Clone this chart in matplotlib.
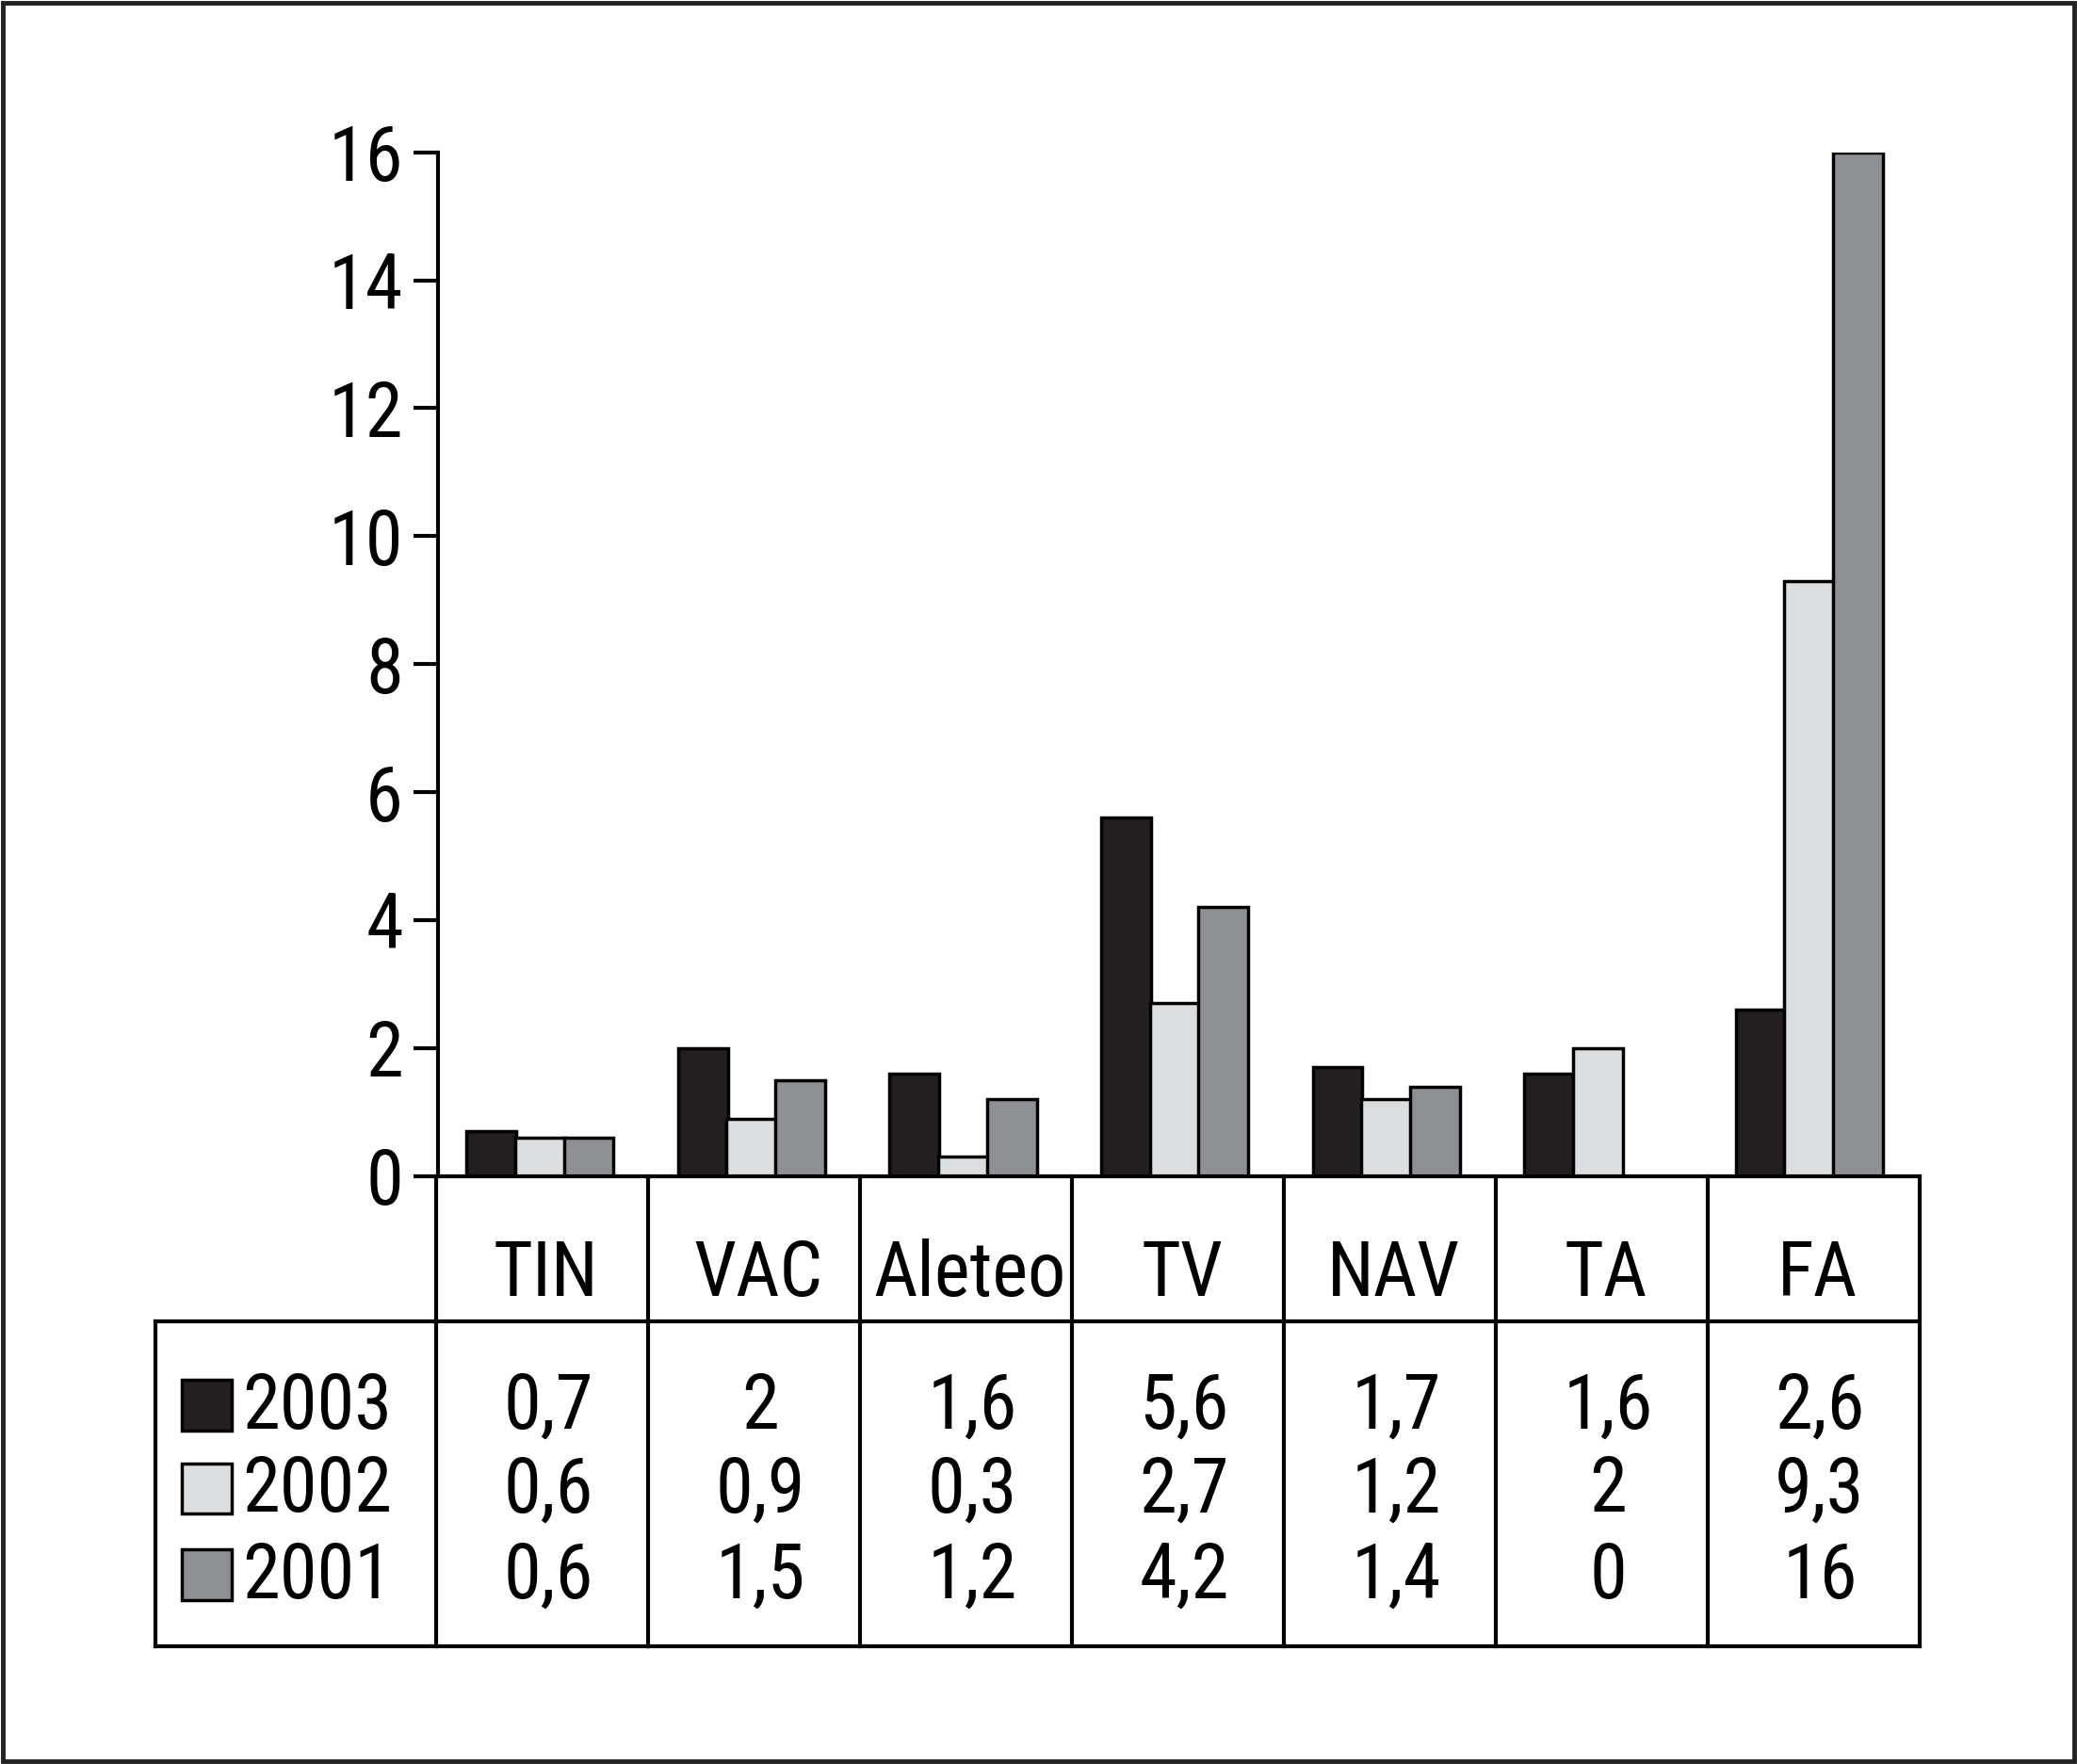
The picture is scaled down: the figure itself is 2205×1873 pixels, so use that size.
import matplotlib
matplotlib.use("Agg")
import matplotlib.pyplot as plt
from matplotlib.patches import Rectangle
import numpy as np

plt.rcParams['font.family'] = ['Roboto Condensed', 'DejaVu Sans']
plt.rcParams['font.weight'] = 'normal'

categories = ["TIN", "VAC", "Aleteo", "TV", "NAV", "TA", "FA"]
series_names = ["2003", "2002", "2001"]
v2003 = [0.7, 2, 1.6, 5.6, 1.7, 1.6, 2.6]
v2002 = [0.6, 0.9, 0.3, 2.7, 1.2, 2, 9.3]
v2001 = [0.6, 1.5, 1.2, 4.2, 1.4, 0, 16]
table_2003 = ["0,7", "2", "1,6", "5,6", "1,7", "1,6", "2,6"]
table_2002 = ["0,6", "0,9", "0,3", "2,7", "1,2", "2", "9,3"]
table_2001 = ["0,6", "1,5", "1,2", "4,2", "1,4", "0", "16"]
yticks = [0, 2, 4, 6, 8, 10, 12, 14, 16]

colors = ["#231f20", "#dcdddf", "#8e9094"]
W, H = 1568.0, 1332.0  # layout reference units

fig = plt.figure(figsize=(22.05, 18.73), dpi=100)
FS = 58
LW = 3.0

# main bar axes
ax = fig.add_axes([331 / W, (H - 888) / H, (1449 - 331) / W, (888 - 115) / H])
x = np.arange(len(categories))
bw = 0.235
offsets = [-0.25, -0.02, 0.21]
for vals, c, off in zip([v2003, v2002, v2001], colors, offsets):
    ax.bar(x + off, vals, width=bw, color=c, edgecolor="black", linewidth=2.5, zorder=3)
ax.set_xlim(-0.5, 6.5)
ax.set_ylim(0, 16)
ax.set_yticks(yticks)
ax.set_yticklabels([str(t) for t in yticks])
ax.set_xticks([])
for s in ["top", "right"]:
    ax.spines[s].set_visible(False)
ax.spines["left"].set_linewidth(LW)
ax.spines["bottom"].set_linewidth(LW)
ax.spines["left"].set_zorder(5)
ax.spines["bottom"].set_zorder(5)
ax.tick_params(axis="y", direction="out", length=19, width=LW, pad=8, labelsize=FS)
ax.patch.set_visible(False)

# table axes
tax = fig.add_axes([117 / W, (H - 1243) / H, (1449 - 117) / W, (1243 - 888) / H])
units = (1449 - 117) / 160.0
x0 = 6.5 - units
tax.set_xlim(x0, 6.5)
tax.set_ylim(0, 355)
tax.axis("off")
kw = dict(color="black", lw=LW, solid_capstyle="projecting", clip_on=False)
tax.plot([x0, 6.5], [245, 245], **kw)
tax.plot([x0, 6.5], [0, 0], **kw)
tax.plot([x0, x0], [0, 245], **kw)
for k in range(len(categories) + 1):
    tax.plot([-0.5 + k, -0.5 + k], [0, 355], **kw)

for i, cat in enumerate(categories):
    tax.text(i + 0.02, 280, cat, ha="center", va="center", fontsize=FS)

rows_y = [180, 117, 52]
for vals, yy in zip([table_2003, table_2002, table_2001], rows_y):
    for i, v in enumerate(vals):
        tax.text(i + 0.03, yy, v, ha="center", va="center", fontsize=FS)

sq_x0 = (139 - 331) / 160 - 0.5
sq_w = (177 - 139) / 160
for name, c, yy in zip(series_names, colors, rows_y):
    tax.add_patch(Rectangle((sq_x0, yy - 17), sq_w, 38, facecolor=c,
                            edgecolor="black", linewidth=2.5, clip_on=False))
    tax.text((185 - 331) / 160 - 0.5, yy, name, ha="left", va="center", fontsize=FS)

# outer frame
fig.patches.append(Rectangle((0.0015, 0.0015), 0.997, 0.997, transform=fig.transFigure,
                             fill=False, edgecolor="#222222", linewidth=3.5))

fig.savefig("out.png", dpi=100, facecolor="white")
